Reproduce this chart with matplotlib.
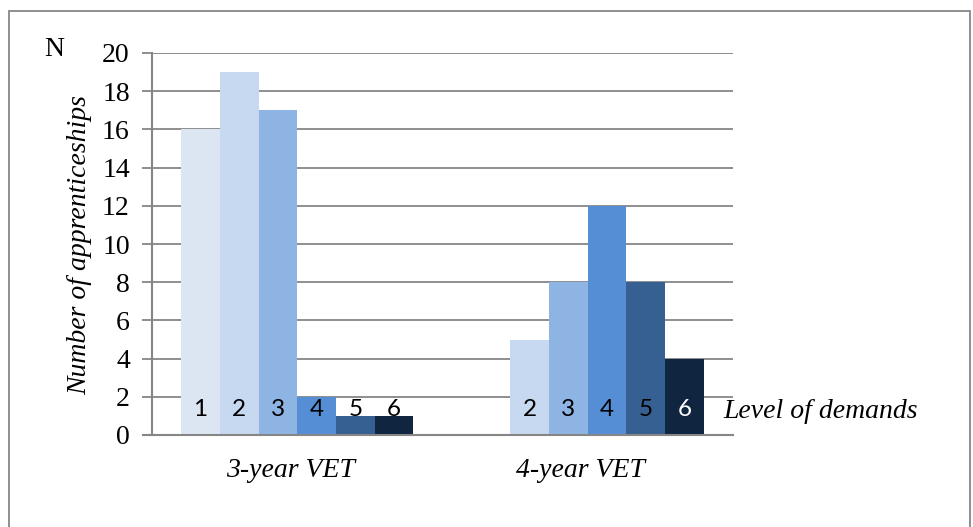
import matplotlib.pyplot as plt
import numpy as np
from matplotlib.patches import Rectangle

# data
groups = ['3-year VET', '4-year VET']
levels = ['1', '2', '3', '4', '5', '6']
vet3 = [16, 19, 17, 2, 1, 1]
vet4 = [0, 5, 8, 12, 8, 4]

colors = ['#dce6f2', '#c6d9f1', '#8eb4e3', '#558ed5', '#376092', '#10253f']
label_colors = ['black', 'black', 'black', 'black', 'black', 'white']

serif = 'Liberation Serif'
sans = 'Lato'
grey = '#868686'

fig = plt.figure(figsize=(9.73, 5.27), dpi=100)
ax = fig.add_axes([152/973, 1 - 435/527, (733-152)/973, (435-53)/527])

x = np.arange(len(groups))
width = 0.8 / len(levels)
values = np.array([vet3, vet4])

for i, lev in enumerate(levels):
    pos = x - 0.4 + width * (i + 0.5)
    ax.bar(pos, values[:, i], width, color=colors[i], zorder=2)
    for j in range(len(groups)):
        if values[j, i] == 0:
            continue
        # label colour: white only when it sits on a dark bar
        c = label_colors[i] if values[j, i] > 1.5 else 'black'
        ax.text(pos[j], 1.35, lev, ha='center', va='center', fontsize=17.5,
                family=sans, color=c, zorder=3)

ax.set_xlim(-0.5, 1.5)
ax.set_ylim(0, 20)
ax.set_yticks(range(0, 21, 2))
ax.set_xticks([])
ax.yaxis.grid(True, color=grey, linewidth=1.3, zorder=0)
ax.set_axisbelow(True)
for s in ['top', 'right']:
    ax.spines[s].set_visible(False)
for s in ['left', 'bottom']:
    ax.spines[s].set_color(grey)
    ax.spines[s].set_linewidth(1.5)
ax.tick_params(axis='y', length=7, width=1.3, color=grey, labelsize=20, pad=9)
for t in ax.get_yticklabels():
    t.set_family(serif)
# extend x-axis line left like the tick marks
ax.plot([-0.5 - 9/290.5, -0.5], [0, 0], color=grey, lw=1.5, clip_on=False)

for j, g in enumerate(groups):
    ax.text(x[j] - 7/290.5, -1.85, g, ha='center', va='center', fontsize=20,
            family=serif, style='italic')

ax.text(1.5 - 10/290.5, 1.25, 'Level of demands', ha='left', va='center',
        fontsize=20, family=serif, style='italic')

fig.text(80/973, 1 - 245/527, 'Number of apprenticeships', rotation=90,
         ha='center', va='center', fontsize=20, family=serif, style='italic')
fig.text(54/973, 1 - 50/527, 'N', ha='center', va='center', fontsize=20,
         family=serif)

fig.patches.append(Rectangle((9/973, -0.05), 961/973, 1.05 - 11/527,
                             transform=fig.transFigure, fill=False,
                             edgecolor=grey, linewidth=1.3))

fig.savefig('out.png', dpi=100)
